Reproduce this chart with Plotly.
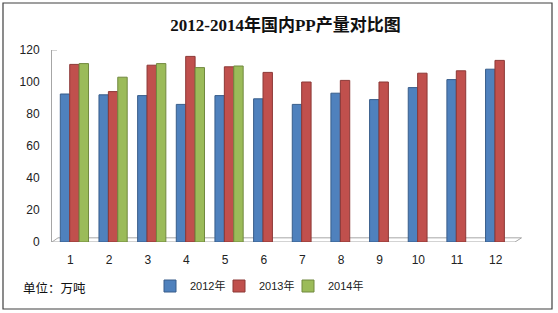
import plotly.graph_objects as go

# ---- data ----
months = [str(i) for i in range(1, 13)]
y2012 = [92.5, 92, 91.5, 86, 91.5, 89.5, 86, 93, 89, 96.5, 101.5, 108]
y2013 = [111, 94, 110.5, 116, 109.5, 106, 100, 101, 100, 105.5, 107, 113.5]
months_2014 = ["1", "2", "3", "4", "5"]
y2014 = [111.5, 103, 111.5, 109, 110]
series_names = ["2012年", "2013年", "2014年"]
y_ticks = [0, 20, 40, 60, 80, 100, 120]

W, H = 558, 313
ML, MR, MT, MB = 52, 39, 50, 71
PW, PH = W - ML - MR, H - MT - MB


def px(xp):
    return (xp - ML) / PW


def py(yp):
    return (H - MB - yp) / PH


fig = go.Figure()
fig.add_bar(x=months, y=y2012, name=series_names[0], legend="legend",
            marker=dict(color="#4F81BD", line=dict(color="#385D8A", width=1)))
fig.add_bar(x=months, y=y2013, name=series_names[1], legend="legend2",
            marker=dict(color="#C0504D", line=dict(color="#8C3836", width=1)))
fig.add_bar(x=months_2014, y=y2014, name=series_names[2], legend="legend3",
            marker=dict(color="#9BBB59", line=dict(color="#71893F", width=1)))

axis_font = dict(family="Liberation Sans, Arial, sans-serif", size=12, color="#222222")
legend_font = dict(family="Liberation Sans, Arial, 'Noto Sans CJK SC', sans-serif", size=11, color="#222222")


def legend_at(xpix):
    return dict(orientation="h", x=px(xpix), xanchor="left", y=py(286), yanchor="middle",
                font=legend_font, bgcolor="rgba(0,0,0,0)", itemclick=False)


fig.update_layout(
    width=W, height=H,
    margin=dict(l=ML, r=MR, t=MT, b=MB, pad=0),
    paper_bgcolor="white", plot_bgcolor="white",
    barmode="group", bargap=0.27, bargroupgap=0,
    title=dict(text="<b>2012-2014年国内PP产量对比图</b>",
               font=dict(family="Liberation Serif, 'Noto Sans CJK SC', serif", size=17, color="#111111"),
               x=0.5, xref="paper", xanchor="center", y=1 - 25 / H, yanchor="middle"),
    xaxis=dict(type="category", categoryorder="array", categoryarray=months,
               range=[-0.58, 11.5], showgrid=False, showline=False, zeroline=False,
               ticks="", tickfont=axis_font, ticklabelshift=-4, ticklabelstandoff=9),
    yaxis=dict(range=[0, 120], tickvals=y_ticks, showgrid=False, zeroline=False,
               showline=True, linecolor="#A6A6A6", linewidth=1,
               ticks="", tickfont=axis_font, ticklabelstandoff=9),
    showlegend=True,
    legend=legend_at(150),
    legend2=legend_at(219),
    legend3=legend_at(288),
    shapes=[
        # outer frame
        dict(type="rect", xref="paper", yref="paper", x0=px(3), x1=px(552), y0=py(309), y1=py(3),
             line=dict(color="#404040", width=1.2), fillcolor="rgba(0,0,0,0)", layer="below"),
        # 3D floor
        dict(type="path", xref="paper", yref="y",
             path=f"M {px(52)},0 L {px(515)},0 L {px(521.5)},2.6 L {px(58)},2.6 Z",
             line=dict(color="#A6A6A6", width=1), fillcolor="rgba(0,0,0,0)", layer="below"),
        # top tick of back wall
        dict(type="line", xref="paper", yref="y", x0=px(52), x1=px(57), y0=120, y1=120,
             line=dict(color="#A6A6A6", width=1)),
    ],
    annotations=[
        dict(text="单位：万吨", xref="paper", yref="paper", x=px(21), y=py(287),
             xanchor="left", yanchor="middle", showarrow=False,
             font=dict(family="'Noto Sans CJK SC', sans-serif", size=12.5, color="#111111")),
    ],
)

fig.write_html("out.html")
